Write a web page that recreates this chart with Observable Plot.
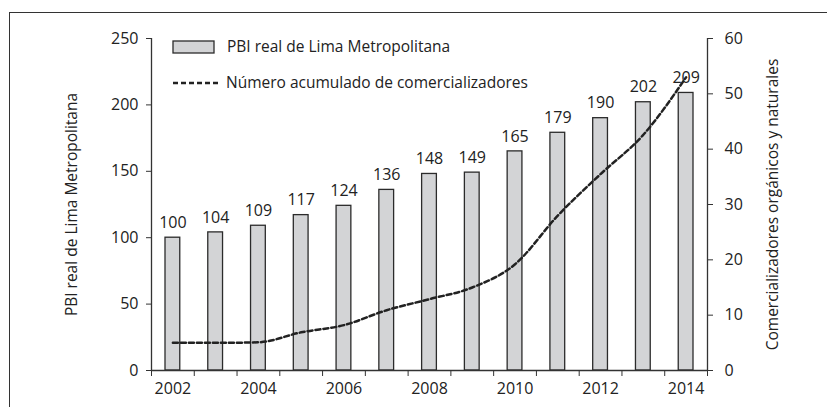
<!DOCTYPE html>
<html>
<head>
<meta charset="utf-8">
<script src="https://cdn.jsdelivr.net/npm/d3@7"></script>
<script src="https://cdn.jsdelivr.net/npm/@observablehq/plot@0.6"></script>
<style>
  html, body { margin: 0; padding: 0; background: #fff; }
  #wrap { position: relative; width: 827px; height: 407px; overflow: hidden; font-family: "Open Sans", Lato, sans-serif; color: #222; }
  #border { position: absolute; left: 9px; top: 12px; right: -10px; bottom: -10px; border-left: 1.5px solid #333; border-top: 1.5px solid #333; }
  .leg { position: absolute; font-size: 15.5px; line-height: 1; white-space: nowrap; }
</style>
</head>
<body>
<div id="wrap">
  <div id="border"></div>
  <div id="chart"></div>
  <svg style="position:absolute;left:0;top:0" width="827" height="407">
    <rect x="173" y="41" width="41" height="12" fill="#d3d4d6" stroke="#2b2b2b" stroke-width="1.3"></rect>
    <line x1="173" x2="218" y1="83" y2="83" stroke="#222" stroke-width="2.5" stroke-dasharray="5,3"></line>
  </svg>
  <div class="leg" id="leg1" style="left:227px; top:39px;"></div>
  <div class="leg" id="leg2" style="left:226px; top:75px;"></div>
</div>
<script>
const years = [2002, 2003, 2004, 2005, 2006, 2007, 2008, 2009, 2010, 2011, 2012, 2013, 2014];
const pbi = [100, 104, 109, 117, 124, 136, 148, 149, 165, 179, 190, 202, 209];
const comercializadores = [5, 5, 5.1, 6.9, 8.2, 10.9, 12.9, 15, 19.2, 28, 35.5, 42.6, 53];
const leftTicks = [0, 50, 100, 150, 200, 250];
const rightTicks = [0, 10, 20, 30, 40, 50, 60];
const xLabelYears = [2002, 2004, 2006, 2008, 2010, 2012, 2014];
const seriesNames = ["PBI real de Lima Metropolitana", "Número acumulado de comercializadores"];
const leftTitle = "PBI real de Lima Metropolitana";
const rightTitle = "Comercializadores orgánicos y naturales";

const k = 250 / 60;
const data = years.map((year, i) => ({year, pbi: pbi[i], com: comercializadores[i]}));
const boundaries = years.map(y => y - 0.5).concat([years[years.length - 1] + 0.5]);

document.getElementById("leg1").textContent = seriesNames[0];
document.getElementById("leg2").textContent = seriesNames[1];

const ink = "#222";
const font = "'Open Sans', Lato, sans-serif";
const chart = Plot.plot({
  width: 827,
  height: 407,
  marginLeft: 151,
  marginRight: 120,
  marginTop: 38,
  marginBottom: 37,
  x: {type: "linear", domain: [years[0] - 0.5, years[years.length - 1] + 0.5]},
  y: {domain: [0, 250]},
  style: {fontFamily: font, fontSize: "16px", color: ink, background: "transparent"},
  marks: [
    Plot.rectY(data, {x1: d => d.year - 0.5, x2: d => d.year + 0.5, y: "pbi", insetLeft: 14, insetRight: 14, fill: "#d3d4d6", stroke: "#2b2b2b", strokeWidth: 1.3}),
    Plot.text(data, {x: "year", y: "pbi", text: d => String(d.pbi), dy: -15, fontSize: 16, fill: ink}),
    Plot.line(data, {x: "year", y: d => d.com * k, stroke: ink, strokeWidth: 2.5, strokeDasharray: "5,3", curve: "monotone-x"}),
    Plot.ruleY([0], {stroke: "#333", strokeWidth: 1.3}),
    Plot.ruleX([boundaries[0], boundaries[boundaries.length - 1]], {y1: 0, y2: 250, stroke: "#333", strokeWidth: 1.3}),
    Plot.axisY(leftTicks, {anchor: "left", tickSize: 5, tickPadding: 8, label: null, stroke: "#333"}),
    Plot.axisY(rightTicks.map(t => t * k), {anchor: "right", tickSize: 5, tickPadding: 12, label: null, tickFormat: d => String(Math.round(d / k)), stroke: "#333"}),
    Plot.axisX(boundaries, {anchor: "bottom", tickSize: 6, tickFormat: () => "", label: null, stroke: "#333"}),
    Plot.axisX(xLabelYears, {anchor: "bottom", tickSize: 0, tickPadding: 12, tickFormat: d => String(d), label: null}),
    Plot.text([leftTitle], {frameAnchor: "left", textAnchor: "middle", rotate: -90, dx: -79, fontSize: 15.5, fill: ink}),
    Plot.text([rightTitle], {frameAnchor: "right", textAnchor: "middle", rotate: -90, dx: 66, fontSize: 15.5, fill: ink})
  ]
});
document.getElementById("chart").appendChild(chart);
</script>
</body>
</html>
